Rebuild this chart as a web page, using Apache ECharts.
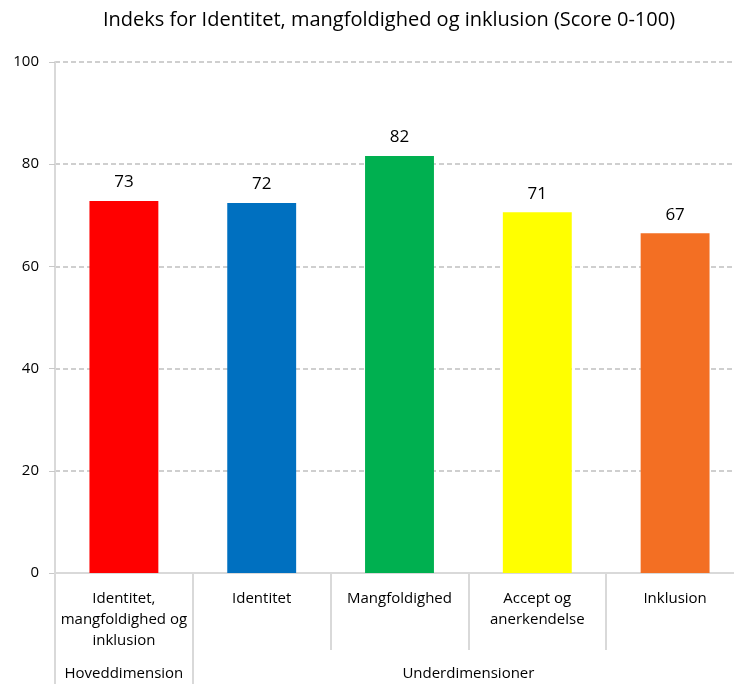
<!DOCTYPE html>
<html>
<head>
<meta charset="utf-8">
<script src="https://cdn.jsdelivr.net/npm/echarts@6/dist/echarts.min.js"></script>
<style>
  html, body { margin: 0; padding: 0; background: #fff; }
  #chart { width: 734px; height: 684px; }
</style>
</head>
<body>
<div id="chart"></div>
<script>
// data
const categories = ['Identitet,\nmangfoldighed og\ninklusion', 'Identitet', 'Mangfoldighed', 'Accept og\nanerkendelse', 'Inklusion'];
const scores = [72.8, 72.4, 81.6, 70.6, 66.5];
const barColors = ['#ff0000', '#0070c0', '#00b050', '#ffff00', '#f36f23'];
const groupNames = ['Hoveddimension', 'Underdimensioner'];
const groupBounds = [0, 1, 5];   // category index where each group starts / ends
const yTicks = { min: 0, max: 100, interval: 20 };

const font = '"Open Sans", "Noto Sans", sans-serif';
const chart = echarts.init(document.getElementById('chart'));

// midpoint of each group on the 0..5 value axis
const groupCenters = groupNames.map((_, i) => (groupBounds[i] + groupBounds[i + 1]) / 2);

chart.setOption({
    backgroundColor: '#fff',
    title: {
        text: 'Indeks for Identitet, mangfoldighed og inklusion (Score 0-100)',
        left: 384,
        textAlign: 'center',
        top: 5,
        textStyle: { fontFamily: font, fontSize: 20, fontWeight: 'normal', color: '#000' }
    },
    grid: { left: 55, right: -10, top: 62, bottom: 111, outerBoundsMode: 'none' },
    xAxis: [
        {
            type: 'category',
            data: categories,
            axisLine: { lineStyle: { color: '#d9d9d9', width: 2 } },
            axisTick: { show: true, length: 77, interval: 0, lineStyle: { color: '#d9d9d9', width: 2 } },
            axisLabel: {
                interval: 0, margin: 15,
                fontFamily: font, fontSize: 15, color: '#000', lineHeight: 21
            }
        },
        {
            type: 'value',
            position: 'bottom',
            offset: 77,
            min: 0,
            max: categories.length,
            splitLine: { show: false },
            axisLine: { show: false },
            axisTick: {
                show: true, length: 34, inside: false,
                customValues: groupBounds.slice(0, -1),
                lineStyle: { color: '#d9d9d9', width: 2 }
            },
            axisLabel: {
                customValues: groupCenters,
                margin: 16,
                fontFamily: font, fontSize: 15, color: '#000',
                formatter: v => groupNames[groupCenters.indexOf(v)] || ''
            }
        }
    ],
    yAxis: {
        type: 'value',
        min: yTicks.min,
        max: yTicks.max,
        interval: yTicks.interval,
        axisLine: { show: true, lineStyle: { color: '#d9d9d9', width: 2 } },
        axisTick: { show: true, length: 6, lineStyle: { color: '#c8c8c8' } },
        axisLabel: { margin: 16, fontFamily: font, fontSize: 15, color: '#000' },
        splitLine: { lineStyle: { color: '#c0c0c0', type: [5, 3], width: 1.5 } }
    },
    series: [{
        type: 'bar',
        xAxisIndex: 0,
        barWidth: '50%',
        data: scores.map((v, i) => ({ value: v, itemStyle: { color: barColors[i] } })),
        label: {
            show: true,
            position: 'top',
            distance: 10,
            fontFamily: font,
            fontSize: 17,
            color: '#000',
            formatter: p => Math.round(p.value)
        }
    }]
});
</script>
</body>
</html>
